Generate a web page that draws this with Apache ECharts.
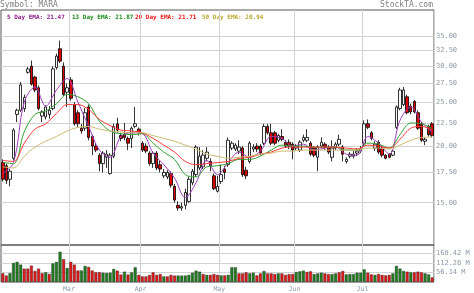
<!DOCTYPE html>
<html><head><meta charset="utf-8">
<script src="https://cdn.jsdelivr.net/npm/echarts@6/dist/echarts.min.js"></script>
<style>html,body{margin:0;padding:0;background:#fff}#c{width:474px;height:293px}</style>
</head><body><div id="c"></div>
<script>
// ---- data (MARA daily, Feb–Jul) ----
const symbol = 'MARA';
const site = 'StockTA.com';
// candles: [open, close, low, high]
const candles = [
[18.4,16.9,16.7,18.7],[18.1,16.8,16.5,18.3],[16.9,17.6,16.3,17.8],[18.8,21.7,18.6,21.9],[23.5,24.0,22.6,24.2],
[24.0,27.3,23.8,27.7],[24.2,25.6,23.8,26.0],[29.1,29.6,28.9,29.9],[30.0,27.4,27.2,30.9],[28.4,26.6,26.3,28.6],
[26.9,24.2,24.0,27.2],[23.3,23.8,22.6,24.0],[23.2,24.4,22.9,24.6],[23.5,24.0,23.0,24.5],[24.2,29.6,24.0,30.0],
[29.8,31.6,29.5,32.0],[32.8,30.8,30.5,34.2],[30.0,26.0,25.8,30.6],[26.3,26.9,24.4,27.5],[28.0,25.5,25.2,28.4],
[24.7,22.4,22.2,25.0],[23.7,22.4,22.0,24.0],[21.9,21.6,21.3,22.4],[21.9,23.7,21.6,24.3],[24.4,20.9,20.6,24.7],
[21.0,20.0,19.1,21.2],[20.0,19.6,19.4,20.3],[19.1,18.3,17.6,19.3],[18.3,19.3,17.5,19.5],[18.9,19.2,17.9,19.6],
[17.4,19.1,17.3,19.3],[19.0,22.1,18.8,22.4],[22.4,21.7,21.4,23.1],[21.1,20.8,20.5,21.4],[21.2,20.9,20.6,22.5],
[20.8,20.3,19.6,21.0],[20.8,21.9,19.8,22.1],[22.1,22.4,21.9,24.4],[21.8,21.4,21.1,22.0],[20.3,19.6,19.4,20.5],
[20.0,19.5,19.3,20.3],[19.3,18.3,18.1,19.5],[18.3,19.3,17.9,19.5],[19.3,17.9,17.7,19.5],[18.2,17.8,17.5,18.6],
[17.2,17.5,17.0,17.8],[17.1,17.5,16.9,17.7],[17.4,16.4,16.2,17.6],[16.3,15.2,15.0,16.5],[14.8,14.6,14.4,15.1],
[14.6,14.7,14.4,15.0],[14.8,15.8,14.5,16.1],[15.1,16.9,15.0,17.1],[16.6,17.6,16.4,17.8],[17.3,19.9,17.1,20.1],
[17.9,19.0,17.7,19.9],[18.0,19.1,17.8,19.6],[18.8,19.4,18.5,19.9],[18.5,18.1,17.6,18.8],[17.2,16.1,16.0,17.4],
[15.9,16.3,15.8,17.2],[16.7,17.3,16.5,18.2],[17.8,17.5,16.9,18.1],[18.2,20.6,18.0,20.9],[19.8,20.3,19.6,20.5],
[19.7,20.1,19.5,20.3],[19.5,19.9,19.2,20.6],[19.8,17.3,17.1,20.0],[17.7,17.2,16.9,18.0],[18.5,20.3,18.3,20.5],
[19.7,19.9,19.4,20.2],[20.0,19.7,19.4,20.3],[20.0,19.3,19.1,20.2],[20.3,22.1,20.1,22.4],[22.1,21.4,21.2,22.4],
[21.4,20.3,20.1,22.4],[21.4,20.3,20.1,21.6],[20.6,21.1,20.4,21.3],[21.0,20.7,20.5,21.8],[20.4,20.0,19.8,20.6],
[20.4,20.0,19.7,20.7],[20.2,19.6,18.7,20.4],[19.8,20.0,19.6,20.2],[19.6,20.4,19.4,20.6],[20.6,20.9,20.4,21.2],
[20.6,20.9,20.4,21.8],[20.3,19.2,19.0,20.5],[19.8,19.1,18.9,20.0],[18.9,19.9,17.6,20.1],[20.0,20.4,19.8,20.9],
[20.2,19.9,19.6,20.4],[19.9,19.4,19.2,20.1],[18.9,19.8,18.5,20.6],[19.8,20.2,19.6,20.4],[20.2,20.7,20.0,21.2],
[19.9,19.2,18.5,20.1],[18.5,18.7,18.3,18.9],[19.0,19.2,18.8,19.4],[19.0,19.2,18.8,19.5],[19.3,19.5,19.0,19.8],
[19.5,19.7,19.3,20.0],[20.3,22.4,20.0,22.8],[22.4,22.0,21.8,22.9],[21.4,20.8,20.6,21.6],[19.8,20.2,19.5,20.5],
[20.4,19.4,19.2,20.6],[19.8,19.1,18.9,20.0],[19.1,18.8,18.7,19.2],[19.2,18.9,18.8,19.3],[19.1,19.5,19.0,19.6],
[22.0,24.4,21.8,24.6],[24.2,26.6,24.0,26.9],[24.7,26.6,24.5,27.0],[25.7,23.7,23.5,26.0],[24.5,23.8,23.5,24.8],
[25.1,23.8,23.6,25.3],[23.7,21.9,21.7,24.0],[22.4,20.6,20.4,22.6],[20.5,20.7,20.1,20.9],[22.1,21.2,21.0,22.3],
[22.4,21.1,20.9,22.6]
];
// volume in millions, and bar colour direction (1 = green, -1 = red)
const volume = [
52,38,52,113,119,103,79,79,97,65,79,52,58,48,110,119,179,135,83,119,
103,68,68,95,89,68,58,58,55,53,55,77,67,44,61,44,57,87,42,33,
33,42,57,42,47,33,33,42,38,38,38,38,42,55,67,61,47,42,42,47,
42,39,39,42,87,87,51,51,57,51,55,39,51,65,51,51,47,51,51,42,
47,47,59,63,67,59,63,47,51,55,51,47,47,51,57,65,45,47,47,55,
55,75,55,45,42,47,42,39,42,51,95,79,65,61,57,57,61,57,51,45,
27
];
const volDir = [
-1,-1,1,1,1,1,-1,-1,-1,-1,-1,-1,1,-1,1,1,1,-1,1,-1,
-1,-1,1,1,-1,-1,-1,-1,1,1,1,1,-1,-1,1,-1,1,1,-1,-1,
-1,-1,-1,-1,-1,1,-1,-1,-1,1,1,1,1,1,1,1,-1,1,-1,-1,
-1,1,-1,1,1,1,-1,-1,-1,1,1,-1,-1,1,-1,-1,-1,1,-1,-1,
-1,-1,1,1,1,-1,-1,1,1,1,-1,-1,1,1,-1,-1,1,1,1,1,
1,1,-1,-1,1,-1,-1,-1,-1,1,1,1,1,-1,1,-1,-1,-1,1,1,
-1
];
// EMA lines read at every third session
const emaIdx = [0,3,6,9,12,15,18,21,24,27,30,33,36,39,42,45,48,51,54,57,60,63,66,69,72,75,78,81,84,87,90,93,96,99,102,105,108,111,114,117,120];
const ema5  = [17.4,18.4,25.0,27.0,24.5,26.6,28.2,25.0,22.1,19.6,18.9,21.0,21.4,21.3,19.3,18.2,17.0,15.4,16.6,18.6,17.3,18.4,19.4,18.9,19.5,21.0,20.8,20.0,20.2,19.6,19.8,19.9,19.2,19.1,21.0,20.3,19.2,22.8,24.4,22.6,21.47];
const ema13 = [18.4,18.3,21.5,23.5,23.9,24.8,26.0,25.7,24.8,22.7,21.6,21.3,21.2,21.3,20.3,19.4,18.7,17.3,17.1,18.0,18.1,18.3,18.7,18.7,19.0,19.6,20.1,20.0,20.0,19.9,19.9,19.9,19.6,19.6,20.3,20.2,19.8,21.2,22.5,22.4,21.87];
const ema20 = [18.6,18.5,20.3,21.8,22.4,23.6,24.7,24.7,24.1,22.9,22.2,21.7,21.6,21.4,20.8,20.1,19.4,18.5,18.2,18.3,18.4,18.5,18.8,18.9,19.2,19.4,19.8,19.9,19.9,19.9,19.9,19.9,19.8,19.7,20.1,20.0,19.8,20.7,21.9,22.1,21.71];
const ema50 = [18.0,17.9,19.0,19.9,20.5,21.0,21.6,22.0,22.1,21.8,21.6,21.5,21.4,21.4,21.1,20.8,20.5,20.1,19.7,19.2,19.0,18.8,18.9,19.0,19.2,19.3,19.5,19.5,19.6,19.6,19.6,19.6,19.6,19.6,19.8,19.8,19.7,20.1,20.6,20.9,20.94];
const emaNames = ['5 Day EMA','13 Day EMA','20 Day EMA','50 Day EMA'];
const emaLast = ['21.47','21.87','21.71','20.94'];
const monthNames = ['Mar','Apr','May','Jun','Jul'];
const monthStart = [19,39,61,82,101];
const priceTicks = [15,17.5,20,22.5,25,27.5,30,32.5,35];
const volTicks = [56.14,112.28,168.42];

// ---- build chart ----
const cats = candles.map((c,i)=>String(i));
const labelAt = {}; monthStart.forEach((s,k)=>labelAt[s]=monthNames[k]);
const mono = 'DejaVu Sans Mono';
const axisGrey = '#8c98a8';
const gridGrey = '#d2d2d2';
const lineCols = ['#a040c0','#33a033','#ff3a3a','#cdbb72'];
const legendCols = ['#8a1a8a','#1a8a1a','#ee1111','#b8a830'];
const pairs = arr => emaIdx.map((x,k)=>[x, arr[k]]);
const emaSets = [ema5, ema13, ema20, ema50];

const chart = echarts.init(document.getElementById('c'), null, {renderer:'canvas'});
const legendX = [7, 72, 135, 202];
chart.setOption({
  animation:false,
  backgroundColor:'#fff',
  grid:[
    {left:1, top:10, width:433, height:235, show:true, borderColor:'#555', borderWidth:1, backgroundColor:'transparent'},
    {left:1, top:245, width:433, height:37, show:true, borderColor:'#555', borderWidth:1, backgroundColor:'transparent'}
  ],
  xAxis:[
    {type:'category', gridIndex:0, data:cats, boundaryGap:true,
     axisLine:{show:false}, axisTick:{show:false}, axisLabel:{show:false},
     splitLine:{show:true, interval:(i)=>monthStart.includes(i), lineStyle:{color:gridGrey, width:1}}},
    {type:'category', gridIndex:1, data:cats, boundaryGap:true,
     axisLine:{show:false}, axisTick:{show:false},
     axisLabel:{show:true, interval:(i)=>monthStart.includes(i), formatter:(v,i)=>labelAt[i]||'',
       color:axisGrey, fontFamily:mono, fontSize:6.5, margin:4, padding:[0,3.6,0,0]},
     splitLine:{show:true, interval:(i)=>monthStart.includes(i), lineStyle:{color:gridGrey, width:1}}}
  ],
  yAxis:[
    {type:'log', gridIndex:0, min:12.1, max:39.94, position:'right',
     axisLine:{show:false}, axisTick:{show:false}, axisLabel:{show:false}, splitLine:{show:false}},
    {type:'value', gridIndex:1, min:0, max:219, position:'right',
     axisLine:{show:false}, axisTick:{show:false}, axisLabel:{show:false}, splitLine:{show:false}}
  ],
  graphic:[
    {type:'text', left:0, top:1, style:{text:'Symbol: '+symbol, fill:'#7f7f7f', font:'8px "DejaVu Sans Mono"'}},
    {type:'text', right:41, top:1, style:{text:site, fill:'#7f7f7f', font:'8px "DejaVu Sans Mono"'}}
  ].concat(emaNames.map((n,k)=>({type:'text', left:legendX[k], top:14.5,
     style:{text:n+': '+emaLast[k], fill:legendCols[k], font:'bold 6px "DejaVu Sans Mono"'}}))),
  series:[
    {type:'candlestick', xAxisIndex:0, yAxisIndex:0, data:candles, barWidth:3, z:3,
     itemStyle:{color:'#ffffff', color0:'#dd0000', borderColor:'#000', borderColor0:'#000', borderWidth:0.8},
     markLine:{silent:true, symbol:'none', z:1, animation:false,
       lineStyle:{color:gridGrey, type:'solid', width:1},
       label:{position:'end', distance:2, formatter:p=>Number(p.value).toFixed(2), color:axisGrey, fontFamily:mono, fontSize:7},
       data:priceTicks.map(v=>({yAxis:v}))}},
  ].concat(emaSets.map((arr,k)=>({type:'line', xAxisIndex:0, yAxisIndex:0, data:pairs(arr), smooth:0.35,
       symbol:'none', z:4, lineStyle:{color:lineCols[k], width:1}}))).concat([
    {type:'bar', xAxisIndex:1, yAxisIndex:1, barWidth:3, z:3,
     data:volume.map((v,i)=>({value:v, itemStyle:{color: volDir[i]>0?'#1e7d1e':'#e01818'}})),
     itemStyle:{borderColor:'#333', borderWidth:0.4},
     markLine:{silent:true, symbol:'none', z:1, animation:false,
       lineStyle:{color:gridGrey, type:'solid', width:1},
       label:{position:'end', distance:2, formatter:p=>Number(p.value).toFixed(2)+' M', color:axisGrey, fontFamily:mono, fontSize:7},
       data:volTicks.map(v=>({yAxis:v}))}}
  ])
});
</script></body></html>
